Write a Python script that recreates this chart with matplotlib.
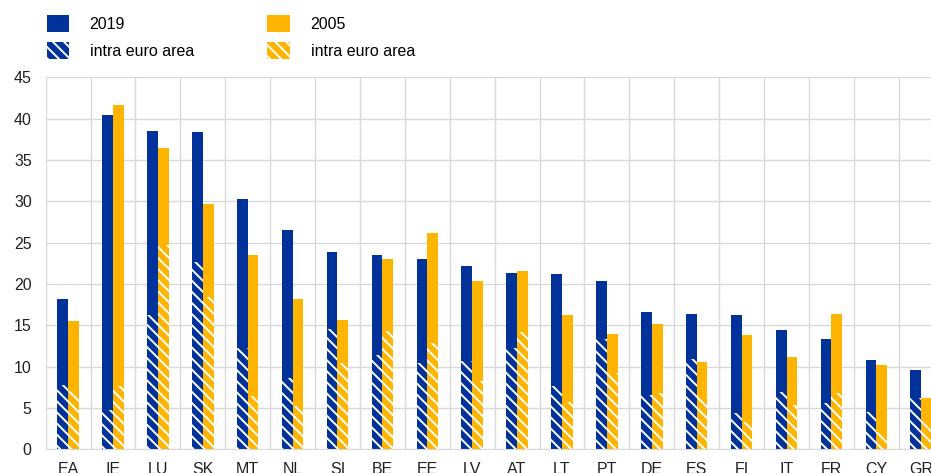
import matplotlib
matplotlib.use("Agg")
import matplotlib.pyplot as plt
from matplotlib.patches import Patch
import numpy as np

countries = ["EA", "IE", "LU", "SK", "MT", "NL", "SI", "BE", "EE", "LV",
             "AT", "LT", "PT", "DE", "ES", "FI", "IT", "FR", "CY", "GR"]
total_2019 = [18.2, 40.4, 38.5, 38.4, 30.3, 26.5, 23.9, 23.5, 23.0, 22.2,
              21.3, 21.2, 20.4, 16.6, 16.4, 16.2, 14.4, 13.4, 10.8, 9.6]
intra_2019 = [7.8, 4.75, 16.3, 22.7, 12.2, 8.6, 14.5, 11.4, 10.4, 10.7,
              12.25, 7.65, 13.3, 6.6, 10.9, 4.35, 6.9, 5.6, 4.5, 6.2]
total_2005 = [15.5, 41.6, 36.4, 29.7, 23.5, 18.2, 15.6, 23.0, 26.2, 20.4,
              21.6, 16.3, 13.9, 15.2, 10.55, 13.8, 11.2, 16.4, 10.2, 6.2]
intra_2005 = [7.0, 7.65, 24.7, 18.4, 6.4, 5.2, 10.4, 14.3, 12.9, 8.26,
              14.2, 5.76, 9.26, 6.85, 6.44, 3.26, 5.36, 6.85, 2.05, 3.46]

blue = "#003299"
yellow = "#FFB400"
grid_col = "#d9d9d9"
fs = 11.5

plt.rcParams["font.family"] = ["Liberation Sans", "DejaVu Sans"]
plt.rcParams["hatch.linewidth"] = 1.4

fig = plt.figure(figsize=(9.31, 4.73), dpi=100)
ax = fig.add_axes([0.049, 0.0501, 0.9646, 0.7865])

x = np.arange(len(countries))
w = 0.24

# full bars, then the intra euro area share drawn hatched on top
ax.bar(x - w / 2, total_2019, w, color=blue, linewidth=0, zorder=2)
ax.bar(x - w / 2, intra_2019, w, color=blue, edgecolor="white",
       hatch="\\\\\\", linewidth=0, zorder=3)
ax.bar(x + w / 2, total_2005, w, color=yellow, linewidth=0, zorder=2)
ax.bar(x + w / 2, intra_2005, w, color=yellow, edgecolor="white",
       hatch="\\\\\\", linewidth=0, zorder=3)

ax.set_xlim(-0.5, len(countries) - 0.5)
ax.set_ylim(0, 45)
ax.set_yticks(range(0, 46, 5))
ax.set_xticks(x)
ax.set_xticklabels(countries)
ax.set_xticks(np.arange(-0.5, len(countries), 1), minor=True)

ax.tick_params(axis="both", which="both", length=0, labelsize=fs,
               colors="#222222")
ax.tick_params(axis="x", pad=9)
ax.tick_params(axis="y", pad=10)

ax.grid(axis="y", color=grid_col, linewidth=1, zorder=0)
ax.grid(axis="x", which="minor", color=grid_col, linewidth=1, zorder=0)
ax.grid(axis="x", which="major", visible=False)
for s in ["top", "right", "left"]:
    ax.spines[s].set_visible(False)
ax.spines["bottom"].set_color(grid_col)
ax.spines["bottom"].set_zorder(4)

handles = [
    Patch(facecolor=blue, linewidth=0, label="2019"),
    Patch(facecolor=blue, edgecolor="white", hatch="\\\\\\", linewidth=0,
          label="intra euro area"),
    Patch(facecolor=yellow, linewidth=0, label="2005"),
    Patch(facecolor=yellow, edgecolor="white", hatch="\\\\\\", linewidth=0,
          label="intra euro area"),
]
fig.legend(handles=handles, ncol=2, loc="upper left",
           bbox_to_anchor=(0.0415, 0.985), bbox_transform=fig.transFigure,
           frameon=False, fontsize=fs, borderpad=0, handlelength=1.4,
           handleheight=1.3, handletextpad=1.3, columnspacing=4.6,
           labelspacing=0.6)

fig.savefig("out.png", dpi=100)
